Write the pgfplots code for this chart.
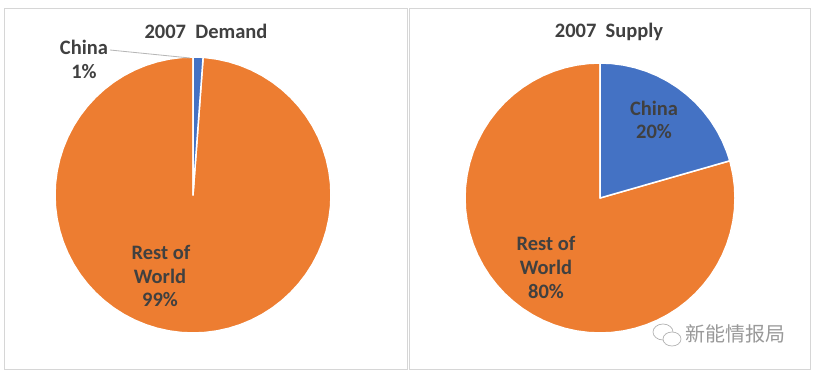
\documentclass[border=0pt]{standalone}
\usepackage{pgfplots}
\pgfplotsset{compat=1.18}
\usepackage{fontspec}
\setmainfont{Carlito}
\newfontfamily\cjk{Noto Sans CJK SC}
\definecolor{pieorange}{HTML}{ED7D31}
\definecolor{pieblue}{HTML}{4472C4}
\definecolor{txt}{HTML}{404040}
\definecolor{frm}{HTML}{D6D6D6}
\pgfplotsset{canvas/.style={width=817pt,height=375pt,scale only axis,hide axis,at={(0pt,0pt)},anchor=south west,clip=false}}
\tikzset{lab/.style={font=\fontsize{20.5}{22}\selectfont\bfseries,text=txt,inner sep=0pt}}
\begin{document}
\begin{tikzpicture}
% frames
\begin{axis}[canvas,xmin=0,xmax=817,ymin=0,ymax=375,y dir=reverse]
\addplot[draw=none,fill=white,forget plot] coordinates {(0,0)(817,0)(817,375)(0,375)} -- cycle;
\addplot[draw=frm,line width=0.9pt,forget plot] coordinates {(4,8)(407,8)(407,369)(4,369)(4,8)};
\addplot[draw=frm,line width=0.9pt,forget plot] coordinates {(409,8)(810,8)(810,369)(409,369)(409,8)};
\end{axis}
% 2007 Demand
\begin{axis}[canvas,xmin=-193,xmax=624,ymin=-180,ymax=195]
\addplot[data cs=polar,fill=pieorange,draw=white,line width=1.5pt,line join=round] coordinates {(0,0)(85.8,138)(85,138)(80,138)(75,138)(70,138)(65,138)(60,138)(55,138)(50,138)(45,138)(40,138)(35,138)(30,138)(25,138)(20,138)(15,138)(10,138)(5,138)(0,138)(-5,138)(-10,138)(-15,138)(-20,138)(-25,138)(-30,138)(-35,138)(-40,138)(-45,138)(-50,138)(-55,138)(-60,138)(-65,138)(-70,138)(-75,138)(-80,138)(-85,138)(-90,138)(-95,138)(-100,138)(-105,138)(-110,138)(-115,138)(-120,138)(-125,138)(-130,138)(-135,138)(-140,138)(-145,138)(-150,138)(-155,138)(-160,138)(-165,138)(-170,138)(-175,138)(-180,138)(-185,138)(-190,138)(-195,138)(-200,138)(-205,138)(-210,138)(-215,138)(-220,138)(-225,138)(-230,138)(-235,138)(-240,138)(-245,138)(-250,138)(-255,138)(-260,138)(-265,138)(-270,138)} -- cycle;
\addplot[data cs=polar,fill=pieblue,draw=white,line width=1.5pt,line join=round] coordinates {(0,0)(90,138)(88,138)(85.8,138)} -- cycle;
\end{axis}
% 2007 Supply
\begin{axis}[canvas,xmin=-600,xmax=217,ymin=-177,ymax=198]
\addplot[data cs=polar,fill=pieorange,draw=white,line width=1.5pt,line join=round] coordinates {(0,0)(16,135)(15,135)(10,135)(5,135)(0,135)(-5,135)(-10,135)(-15,135)(-20,135)(-25,135)(-30,135)(-35,135)(-40,135)(-45,135)(-50,135)(-55,135)(-60,135)(-65,135)(-70,135)(-75,135)(-80,135)(-85,135)(-90,135)(-95,135)(-100,135)(-105,135)(-110,135)(-115,135)(-120,135)(-125,135)(-130,135)(-135,135)(-140,135)(-145,135)(-150,135)(-155,135)(-160,135)(-165,135)(-170,135)(-175,135)(-180,135)(-185,135)(-190,135)(-195,135)(-200,135)(-205,135)(-210,135)(-215,135)(-220,135)(-225,135)(-230,135)(-235,135)(-240,135)(-245,135)(-250,135)(-255,135)(-260,135)(-265,135)(-270,135)} -- cycle;
\addplot[data cs=polar,fill=pieblue,draw=white,line width=1.5pt,line join=round] coordinates {(0,0)(90,135)(85,135)(80,135)(75,135)(70,135)(65,135)(60,135)(55,135)(50,135)(45,135)(40,135)(35,135)(30,135)(25,135)(20,135)(16,135)} -- cycle;
\end{axis}
% text
\begin{axis}[canvas,xmin=0,xmax=817,ymin=0,ymax=375,y dir=reverse]
\addplot[draw=black!15!frm,line width=0.8pt,forget plot] coordinates {(110,50)(190,58)};
\node[lab] at (axis cs:206,31) {2007\ \ Demand};
\node[lab] at (axis cs:609,32) {2007\ \ Supply};
\node[lab] at (axis cs:84,47) {China};
\node[lab] at (axis cs:84,72) {1\%};
\node[lab] at (axis cs:161,252) {Rest of};
\node[lab] at (axis cs:160,276) {World};
\node[lab] at (axis cs:160,300) {99\%};
\node[lab] at (axis cs:654,108) {China};
\node[lab] at (axis cs:654,132) {20\%};
\node[lab] at (axis cs:546,243) {Rest of};
\node[lab] at (axis cs:546,267) {World};
\node[lab] at (axis cs:546,292) {80\%};
% watermark
\node[font=\cjk\fontsize{20}{22}\selectfont,text=black!40,inner sep=0pt] at (axis cs:735,334) {新能情报局};
\draw[black!30,line width=0.7pt,fill=white] (axis cs:663,332) ellipse [x radius=10pt,y radius=8pt];
\draw[black!30,line width=0.7pt,fill=white] (axis cs:672,339) ellipse [x radius=9pt,y radius=7pt];
\end{axis}
\end{tikzpicture}
\end{document}
